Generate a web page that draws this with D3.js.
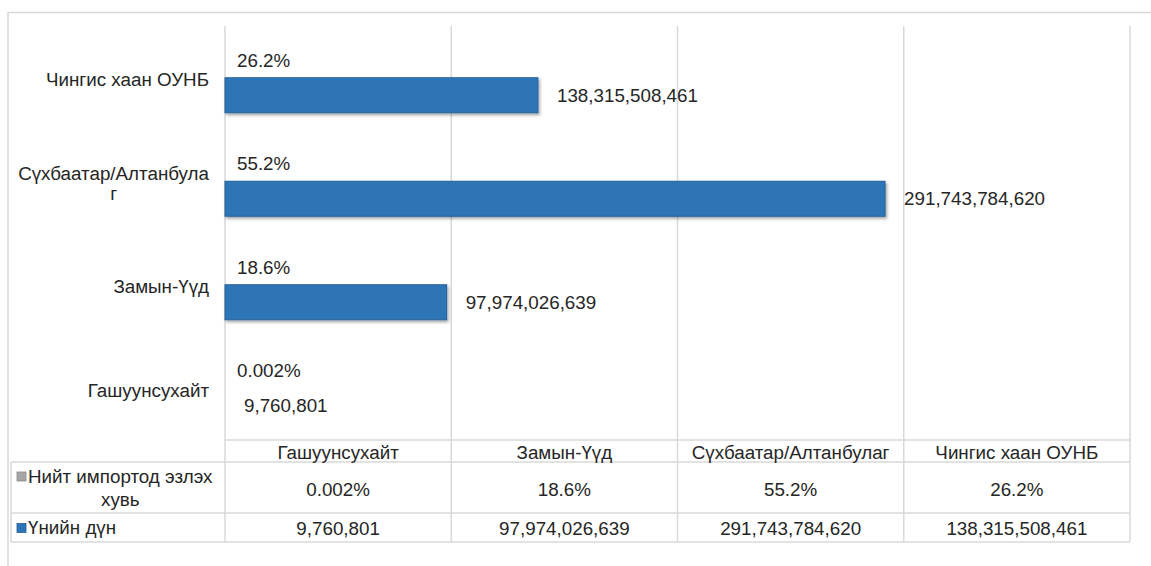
<!DOCTYPE html>
<html><head><meta charset="utf-8">
<script src="https://cdn.jsdelivr.net/npm/d3@7"></script>
<style>
html,body{margin:0;padding:0;background:#fff;}
text{font-family:"Liberation Sans",Arial,sans-serif;fill:#262626;}
</style></head>
<body>
<svg id="c" width="1151" height="566"></svg>
<script>
// ---- data ----
const categories = ["Гашуунсухайт", "Замын-Үүд", "Сүхбаатар/Алтанбулаг", "Чингис хаан ОУНБ"];
const seriesNames = ["Нийт импортод эзлэх хувь", "Үнийн дүн"];
const shareValues = [0.002, 18.6, 55.2, 26.2];          // percent
const shareLabels = ["0.002%", "18.6%", "55.2%", "26.2%"];
const amountValues = [9760801, 97974026639, 291743784620, 138315508461];
const axisTicks = [0, 100e9, 200e9, 300e9, 400e9];

const svg = d3.select("#c");
const FS = 18.8;
const grid = "#d9d9d9";
const blue = "#2E75B6";
const gray = "#A5A5A5";

const L = 225, R = 1130, T = 26, B = 440;
const x = d3.scaleLinear().domain([0, 400e9]).range([L, R]);
const order = categories.slice().reverse();
const y = d3.scaleBand().domain(order).range([T, B]).paddingInner(0).paddingOuter(0);
const ys = d3.scaleBand().domain([0, 1]).range([0, y.bandwidth()]).paddingInner(0).paddingOuter(0.478);

const defs = svg.append("defs");
const f = defs.append("filter").attr("id", "sh").attr("x", "-5%").attr("y", "-30%").attr("width", "115%").attr("height", "170%");
f.append("feDropShadow").attr("dx", 1.5).attr("dy", 2).attr("stdDeviation", 1.5).attr("flood-color", "#000").attr("flood-opacity", 0.35);

// outer frame
svg.append("line").attr("x1", 8).attr("x2", 1151).attr("y1", 12.5).attr("y2", 12.5).attr("stroke", grid).attr("stroke-width", 1.5);
svg.append("line").attr("x1", 8).attr("x2", 8).attr("y1", 12).attr("y2", 566).attr("stroke", grid).attr("stroke-width", 1.5);

const tblTop = B, r1Top = 462, r2Top = 513, tblBot = 542, tblLeft = 11;
svg.append("g").selectAll("line").data(axisTicks).join("line")
  .attr("x1", d => x(d)).attr("x2", d => x(d)).attr("y1", T).attr("y2", tblBot)
  .attr("stroke", grid).attr("stroke-width", 1.5);

svg.append("line").attr("x1", L).attr("x2", R).attr("y1", tblTop).attr("y2", tblTop).attr("stroke", grid).attr("stroke-width", 1.5);
[r1Top, r2Top, tblBot].forEach(yy => {
  svg.append("line").attr("x1", tblLeft).attr("x2", R).attr("y1", yy).attr("y2", yy).attr("stroke", grid).attr("stroke-width", 1.5);
});
svg.append("line").attr("x1", tblLeft).attr("x2", tblLeft).attr("y1", r1Top).attr("y2", tblBot).attr("stroke", grid).attr("stroke-width", 1.5);

// bars
const gBars = svg.append("g");
categories.forEach((c, i) => {
  const y0 = y(c);
  const wS = x(shareValues[i]) - x(0);
  if (wS >= 1) gBars.append("rect").attr("x", x(0)).attr("y", y0 + ys(0)).attr("width", wS)
    .attr("height", ys.bandwidth()).attr("fill", gray);
  const wA = x(amountValues[i]) - x(0);
  if (wA >= 1) gBars.append("rect").attr("x", x(0)).attr("y", y0 + ys(1)).attr("width", wA)
    .attr("height", ys.bandwidth()).attr("fill", blue).attr("stroke", "#25619a").attr("stroke-width", 1)
    .attr("filter", "url(#sh)");
  svg.append("text").attr("x", x(shareValues[i]) + 12).attr("y", y0 + ys(0) + ys.bandwidth() / 2)
    .attr("dy", "0.35em").attr("font-size", FS).text(shareLabels[i]);
  svg.append("text").attr("x", x(amountValues[i]) + 19).attr("y", y0 + ys(1) + ys.bandwidth() / 2)
    .attr("dy", "0.35em").attr("font-size", FS).text(d3.format(",")(amountValues[i]));
});

const meas = svg.append("text").attr("font-size", FS).attr("x", -1000);
function tw(s) { meas.text(s); return meas.node().getComputedTextLength(); }
function wrap(s, maxW) {
  const words = s.split(" ");
  const lines = [];
  let cur = "";
  words.forEach(w => {
    const t = cur ? cur + " " + w : w;
    if (tw(t) <= maxW) { cur = t; }
    else {
      if (cur) lines.push(cur);
      cur = w;
      while (tw(cur) > maxW) {
        let k = cur.length;
        while (k > 1 && tw(cur.slice(0, k)) > maxW) k--;
        lines.push(cur.slice(0, k));
        cur = cur.slice(k);
      }
    }
  });
  if (cur) lines.push(cur);
  return lines;
}

// category axis labels
categories.forEach(c => {
  const lines = wrap(c, 196);
  const bw = d3.max(lines, tw);
  const right = 209, cx = right - bw / 2;
  const lh = 20;
  const cy = y(c) + y.bandwidth() / 2 + 2;
  lines.forEach((ln, k) => {
    svg.append("text").attr("x", lines.length > 1 ? cx : right)
      .attr("text-anchor", lines.length > 1 ? "middle" : "end")
      .attr("y", cy + (k - (lines.length - 1) / 2) * lh).attr("dy", "0.35em")
      .attr("font-size", FS).text(ln);
  });
});

// table
categories.forEach((c, i) => {
  const cx = (x(axisTicks[i]) + x(axisTicks[i + 1])) / 2;
  svg.append("text").attr("x", cx).attr("y", (tblTop + r1Top) / 2 + 1).attr("dy", "0.35em")
    .attr("text-anchor", "middle").attr("font-size", FS).text(c);
  svg.append("text").attr("x", cx).attr("y", (r1Top + r2Top) / 2 + 2).attr("dy", "0.35em")
    .attr("text-anchor", "middle").attr("font-size", FS).text(shareLabels[i]);
  svg.append("text").attr("x", cx).attr("y", (r2Top + tblBot) / 2 + 1).attr("dy", "0.35em")
    .attr("text-anchor", "middle").attr("font-size", FS).text(d3.format(",")(amountValues[i]));
});

const legColors = [gray, blue];
const rows = [[r1Top, r2Top], [r2Top, tblBot]];
seriesNames.forEach((s, i) => {
  const lines = wrap(s, 192);
  const [a, b] = rows[i];
  const cy = (a + b) / 2;
  const lh = 23;
  const y1 = cy - (lines.length - 1) / 2 * lh;
  svg.append("rect").attr("x", 17).attr("y", y1 - 4).attr("width", 9).attr("height", 9)
    .attr("fill", legColors[i]).attr("stroke", i ? "#25619a" : "#8a8a8a").attr("stroke-width", 0.8);
  const w0 = tw(lines[0]);
  lines.forEach((ln, k) => {
    if (k === 0) {
      svg.append("text").attr("x", 28).attr("y", y1).attr("dy", "0.35em").attr("font-size", FS).text(ln);
    } else {
      svg.append("text").attr("x", 28 + w0 / 2).attr("y", y1 + k * lh).attr("dy", "0.35em")
        .attr("text-anchor", "middle").attr("font-size", FS).text(ln);
    }
  });
});
meas.remove();
</script>
</body></html>
